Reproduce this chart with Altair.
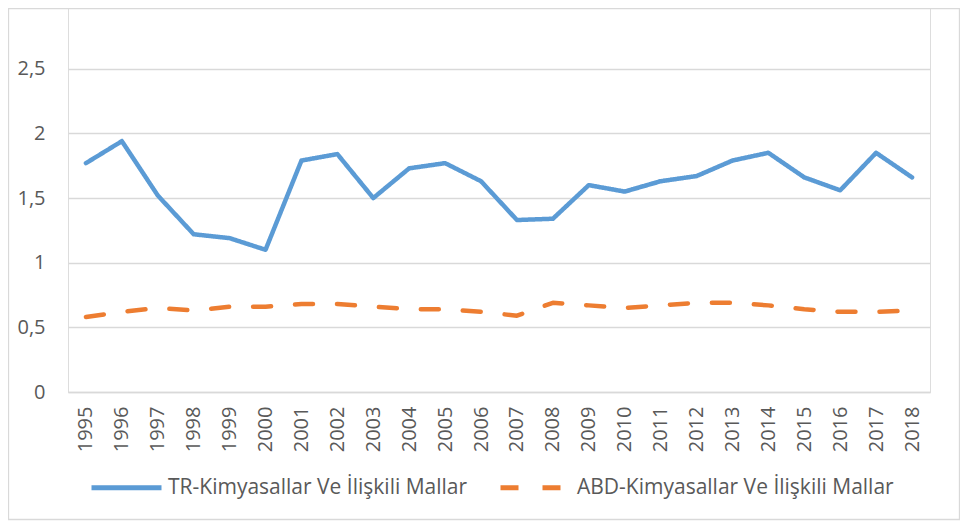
import altair as alt
import pandas as pd

years = [str(y) for y in range(1995, 2019)]
tr_values = [1.77, 1.94, 1.52, 1.22, 1.19, 1.10, 1.79, 1.84, 1.50, 1.73, 1.77, 1.63,
             1.33, 1.34, 1.60, 1.55, 1.63, 1.67, 1.79, 1.85, 1.66, 1.56, 1.85, 1.66]
abd_values = [0.58, 0.62, 0.65, 0.63, 0.66, 0.66, 0.68, 0.68, 0.66, 0.64, 0.64, 0.62,
              0.59, 0.69, 0.67, 0.65, 0.67, 0.69, 0.69, 0.67, 0.64, 0.62, 0.62, 0.63]
series_names = ["TR-Kimyasallar Ve İlişkili Mallar", "ABD-Kimyasallar Ve İlişkili Mallar"]
y_ticks = [0, 0.5, 1, 1.5, 2, 2.5]

rows = []
for name, vals in zip(series_names, [tr_values, abd_values]):
    for yr, v in zip(years, vals):
        rows.append({"Yıl": yr, "Değer": v, "Seri": name})
df = pd.DataFrame(rows)

FONT = "Open Sans"
TXT = "#595959"

lines = alt.Chart(df).mark_line(strokeWidth=4.5, strokeCap="round", strokeJoin="round").encode(
    x=alt.X("Yıl:O", scale=alt.Scale(type="point", padding=0.5),
            axis=alt.Axis(title=None, labelAngle=270, labelFontSize=20, labelColor=TXT,
                          labelFont=FONT, ticks=False, domainColor="#d9d9d9", domainWidth=1.3,
                          labelPadding=14, grid=False)),
    y=alt.Y("Değer:Q", scale=alt.Scale(domain=[0, 2.97], nice=False),
            axis=alt.Axis(title=None, values=y_ticks, labelExpr="replace(format(datum.value, '~g'), '.', ',')",
                          labelFontSize=20, labelColor=TXT, labelFont=FONT, ticks=False,
                          domain=False, gridColor="#d9d9d9", gridWidth=1.3, labelPadding=23)),
    color=alt.Color("Seri:N", scale=alt.Scale(domain=series_names, range=["#5B9BD5", "#ED7D31"]),
                    legend=alt.Legend(title=None, orient="none", direction="horizontal",
                                      legendX=21, legendY=442, symbolType="stroke",
                                      symbolSize=4900, symbolStrokeWidth=5, labelFontSize=21,
                                      labelFont=FONT, labelColor=TXT, labelOffset=4,
                                      columnPadding=22, padding=0, labelLimit=400)),
    strokeDash=alt.StrokeDash("Seri:N", scale=alt.Scale(domain=series_names, range=[[1, 0], [18, 24]]),
                              legend=None),
)

frame = alt.Chart(pd.DataFrame({"k": [0]})).mark_rect(fill=None, stroke="#d9d9d9", strokeWidth=1.3).encode(
    x=alt.value(-59.5), x2=alt.value(891.5), y=alt.value(0.7), y2=alt.value(511.5)
)

chart = alt.layer(frame, lines).properties(
    width=862, height=384,
    autosize=alt.AutoSizeParams(type="none"),
    padding={"left": 60, "top": 0, "right": 30, "bottom": 129},
).configure_view(stroke=None).configure(background="white")

chart.save("out.html", embed_options={"renderer": "svg", "actions": False})
